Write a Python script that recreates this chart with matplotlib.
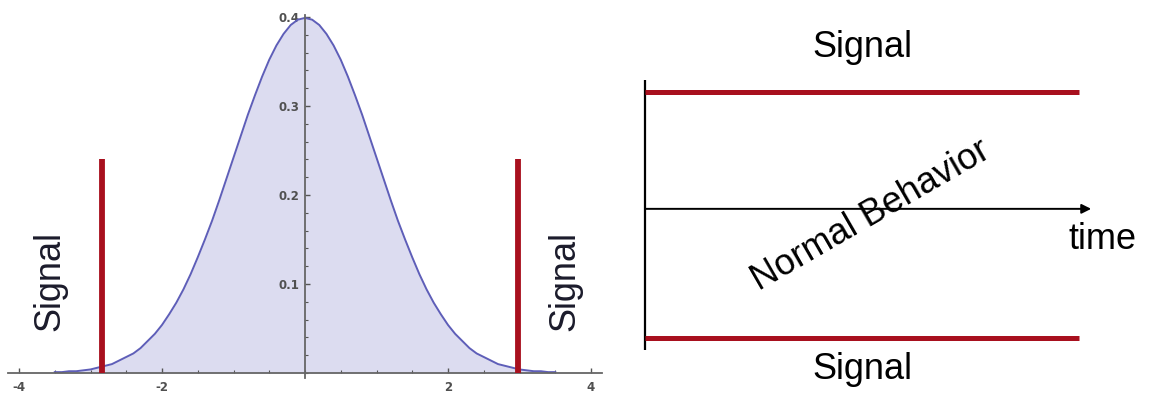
import matplotlib
matplotlib.use("Agg")
import matplotlib.pyplot as plt
from matplotlib.ticker import MultipleLocator, FixedLocator

# ---------------- data ----------------
# bell curve (right half; left half is its mirror)
curve_x_half = [0.0, 0.1, 0.2, 0.3, 0.4, 0.5, 0.6, 0.7, 0.8, 0.9,
                1.0, 1.1, 1.2, 1.3, 1.4, 1.5, 1.6, 1.7, 1.8, 1.9,
                2.0, 2.1, 2.2, 2.3, 2.4, 2.5, 2.6, 2.7, 2.8, 2.9,
                3.0, 3.1, 3.2, 3.3, 3.4, 3.5]
curve_y_half = [0.399, 0.397, 0.391, 0.381, 0.368, 0.352, 0.333, 0.312, 0.290, 0.266,
                0.242, 0.218, 0.194, 0.171, 0.150, 0.130, 0.111, 0.094, 0.079, 0.066,
                0.054, 0.044, 0.036, 0.028, 0.022, 0.018, 0.014, 0.010, 0.008, 0.006,
                0.004, 0.003, 0.002, 0.002, 0.001, 0.001]
curve_x = [-v for v in curve_x_half[:0:-1]] + curve_x_half
curve_y = curve_y_half[:0:-1] + curve_y_half

signal_x = [-2.84, 2.98]      # red threshold markers
signal_height = 0.24
x_major_ticks = [-4, -2, 2, 4]
y_major_ticks = [0.1, 0.2, 0.3, 0.4]
y_tick_labels = ["0.1", "0.2", "0.3", "0.4"]
x_tick_labels = ["-4", "-2", "2", "4"]

# right panel (control chart schematic)
upper_limit = 1.0
lower_limit = -1.0
center_level = 0.05
time_end = 1.0

RED = "#A8101E"
TXT = "#1b1b2b"
FONT = "Liberation Sans"

W, H = 1163, 398
fig = plt.figure(figsize=(W / 100, H / 100), dpi=100)

# ---------------- left panel ----------------
px_per_x = 71.5
px_per_y = 890.0
x0_px, y0_px = 305, 373
xl = (-(x0_px - 8) / px_per_x, (602 - x0_px) / px_per_x)
yl = (-0.006, 0.402)
left = 8 / W
width = (602 - 8) / W
bottom = (H - y0_px + yl[0] * px_per_y) / H
height = (yl[1] - yl[0]) * px_per_y / H
ax = fig.add_axes([left, bottom, width, height])
ax.set_xlim(*xl)
ax.set_ylim(*yl)

ax.fill_between(curve_x, 0, curve_y, color="#DCDCF0", lw=0, zorder=1)
ax.plot(curve_x, curve_y, color="#5E5EB8", lw=1.4, zorder=2)
for sx in signal_x:
    ax.plot([sx, sx], [0, signal_height], color=RED, lw=4.2, solid_capstyle="butt", zorder=4)

for s in ["top", "right"]:
    ax.spines[s].set_visible(False)
ax.spines["left"].set_position(("data", 0))
ax.spines["bottom"].set_position(("data", 0))
for s in ["left", "bottom"]:
    ax.spines[s].set_color("#666666")
    ax.spines[s].set_linewidth(1.3)
    ax.spines[s].set_zorder(3)
ax.xaxis.set_major_locator(FixedLocator(x_major_ticks))
ax.xaxis.set_minor_locator(MultipleLocator(0.5))
ax.yaxis.set_major_locator(FixedLocator(y_major_ticks))
ax.yaxis.set_minor_locator(MultipleLocator(0.02))
ax.set_xticklabels(x_tick_labels)
ax.set_yticklabels(y_tick_labels)
ax.tick_params(which="major", direction="in", length=3.5, width=1, color="#555555",
               labelsize=8.5, labelcolor="#505050")
ax.tick_params(axis="x", which="major", pad=6)
ax.tick_params(axis="y", which="major", pad=4)
ax.tick_params(which="minor", direction="in", length=2, width=0.8, color="#555555")
for lab in ax.get_xticklabels() + ax.get_yticklabels():
    lab.set_fontweight("bold")
ax.patch.set_alpha(0)

ax.text(-3.57, 0.103, "Signal", rotation=90, ha="center", va="center",
        fontsize=26, family=FONT, color=TXT, zorder=5)
ax.text(3.64, 0.103, "Signal", rotation=90, ha="center", va="center",
        fontsize=26, family=FONT, color=TXT, zorder=5)

# ---------------- right panel ----------------
rx0, rx1 = 645, 1079
ry_top, ry_bot = 92, 338
ax2 = fig.add_axes([rx0 / W, (H - ry_bot) / H, (rx1 - rx0) / W, (ry_bot - ry_top) / H])
ax2.set_xlim(0, time_end)
ax2.set_ylim(lower_limit, upper_limit)
ax2.axis("off")

ax2.plot([0, 0], [-1.098, 1.098], color="black", lw=1.6, clip_on=False, solid_capstyle="butt")
ax2.plot([0, time_end], [upper_limit, upper_limit], color=RED, lw=3.6, clip_on=False,
         solid_capstyle="butt")
ax2.plot([0, time_end], [lower_limit, lower_limit], color=RED, lw=3.6, clip_on=False,
         solid_capstyle="butt")
ax2.annotate("", xy=(1.028, center_level), xytext=(0, center_level),
             arrowprops=dict(arrowstyle="-|>", lw=1.4, color="black", mutation_scale=14,
                             shrinkA=0, shrinkB=0), annotation_clip=False)

ax2.text(1.055, -0.2, "time", ha="center", va="center", fontsize=26, family=FONT,
         color="black", clip_on=False)
ax2.text(0.5, 1.36, "Signal", ha="center", va="center", fontsize=26, family=FONT,
         color="black", clip_on=False)
ax2.text(0.5, -1.26, "Signal", ha="center", va="center", fontsize=26, family=FONT,
         color="black", clip_on=False)
ax2.text(0.521, -0.008, "Normal Behavior", rotation=30, ha="center", va="center",
         fontsize=26, family=FONT, color="black", rotation_mode="anchor", clip_on=False)

fig.savefig("out.png", dpi=100)
